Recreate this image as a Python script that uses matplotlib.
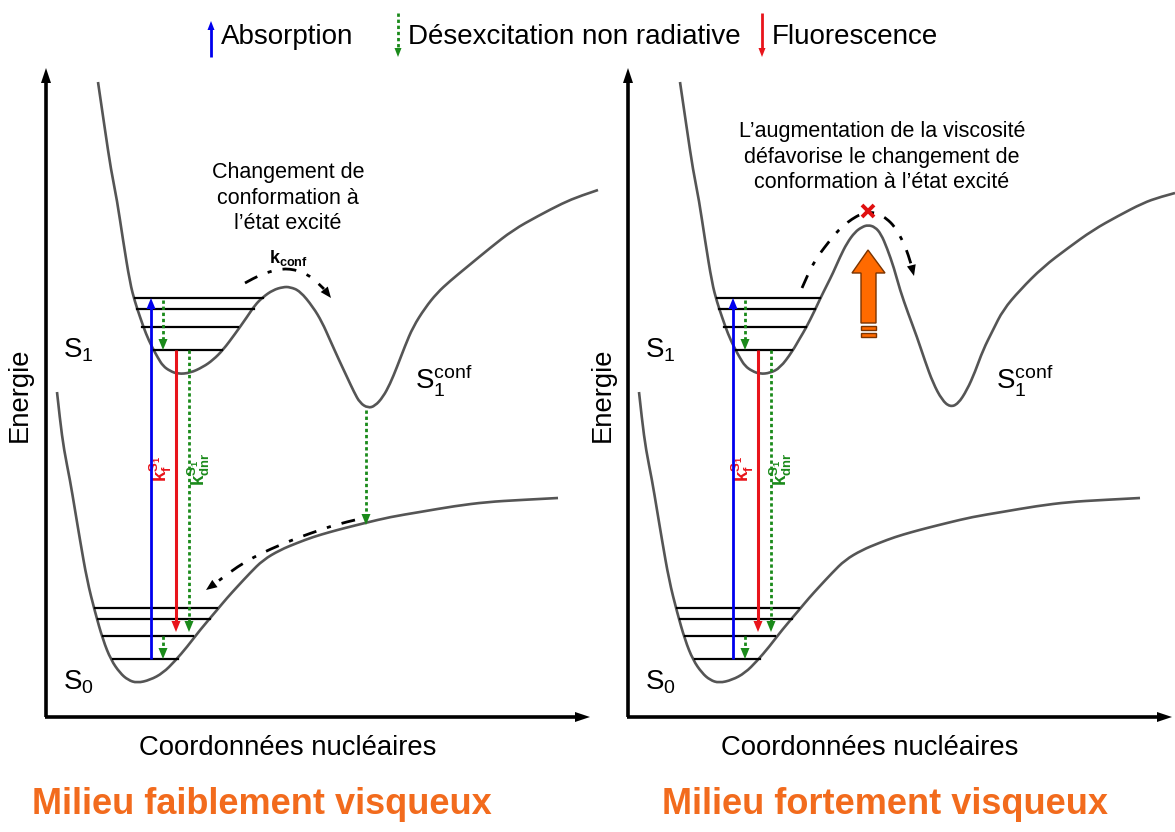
import matplotlib
matplotlib.use("Agg")
import matplotlib.pyplot as plt
import numpy as np
from matplotlib.path import Path
from matplotlib.patches import PathPatch

plt.rcParams['font.family'] = ['Liberation Sans', 'DejaVu Sans']
plt.rcParams['mathtext.fontset'] = 'custom'
plt.rcParams['mathtext.rm'] = 'Liberation Sans'
plt.rcParams['mathtext.bf'] = 'Liberation Sans:bold'
plt.rcParams['mathtext.it'] = 'Liberation Sans:italic'

# ---------------- data (pixel coordinates) ----------------
# left panel S1 potential curve
S1_left_x = [98, 105, 111, 117, 123, 130, 135, 140, 146, 152, 158, 163, 170, 178, 190, 203, 213, 223, 235, 247,
             255, 263, 273, 283, 290, 300, 313, 322, 330, 339, 347, 354, 360, 368, 375, 383, 390, 397, 405, 413,
             425, 437, 450, 467, 490, 513, 538, 563, 580, 598]
S1_left_y = [82, 130, 170, 200, 240, 283, 302, 317, 334, 347, 358, 366, 371, 374, 373, 367, 360, 350, 334, 317,
             305, 297, 290, 287, 287, 291, 307, 322, 340, 360, 377, 392, 403, 408, 406, 397, 384, 367, 346, 327,
             308, 293, 281, 267, 248, 230, 216, 203, 196, 190]
# right panel S1 potential curve
S1_right_x = [680, 687, 693, 699, 705, 712, 717, 722, 728, 734, 740, 745, 752, 760, 770, 780, 792, 800, 806, 815,
              820, 827, 833, 840, 847, 855, 862, 868, 875, 881, 887, 894, 900, 908, 917, 925, 933, 942, 950, 958,
              967, 975, 983, 993, 1003, 1020, 1043, 1068, 1093, 1118, 1143, 1160, 1175]
S1_right_y = [82, 130, 170, 200, 240, 283, 302, 317, 334, 347, 358, 366, 371, 374, 373, 368, 352, 338, 328, 310,
              299, 285, 273, 257, 243, 232, 227, 225, 227, 234, 248, 268, 290, 313, 337, 361, 383, 400, 407, 404,
              390, 372, 350, 330, 310, 290, 267, 248, 230, 216, 203, 197, 193]
# S0 potential curve (left panel; right panel is the same shape shifted)
S0_x = [57, 60, 64, 70, 75, 80, 87, 95, 103, 111, 120, 128, 137, 150, 163, 175, 187, 200, 217, 227, 237, 250,
        263, 280, 297, 313, 330, 345, 365, 390, 420, 455, 487, 520, 558]
S0_y = [392, 420, 450, 480, 510, 540, 580, 612, 640, 660, 673, 680, 683, 680, 673, 661, 647, 630, 610, 598, 587,
        573, 560, 550, 543, 537, 532, 528, 523, 517, 512, 506, 502, 500, 498]
panel_shift = [0, 582]

# vibrational levels: (y, x_start, x_end)
S1_levels_left = [(298, 135, 263), (309, 137, 254), (327, 142, 238), (350, 152, 222)]
S1_levels_right = [(298, 717, 820), (309, 719, 815), (327, 724, 806), (350, 734, 792)]
S0_levels = [(608, 95, 217), (619, 98, 210), (636, 103, 193), (659, 113, 178)]

# transitions (left panel x, y_start, y_end)
absorption = (151, 659, 298)
fluorescence = (176, 350, 632)
dnr_S1 = (163, 300, 350)
dnr_S1_S0 = (189, 350, 632)
dnr_S0 = (163, 636, 659)
dnr_conf = (366, 410, 525)

# dash-dot pathways
kconf_left_x = [245, 254, 263, 272, 281, 290, 299, 308, 316, 324, 331]
kconf_left_y = [283, 278, 274, 271, 269, 269, 271, 275, 281, 289, 298]
relax_S0_x = [355, 338, 320, 300, 280, 262, 245, 230, 217, 206]
relax_S0_y = [520, 524, 530, 537, 545, 553, 562, 572, 582, 590]
kconf_right_x = [802, 806, 810, 815, 821, 828, 835, 843, 852, 861, 870, 879, 887, 894, 899, 904, 908, 911, 914]
kconf_right_y = [288, 279, 270, 261, 252, 243, 234, 226, 219, 214, 212, 214, 219, 226, 234, 244, 254, 264, 276]

# orange "viscosity" arrow (polygon) and stripes
orange_arrow_x = [868, 885, 876, 876, 861, 861, 852]
orange_arrow_y = [250, 273, 273, 323, 323, 273, 273]
orange_stripes = [(861, 876, 326, 330), (861, 876, 333, 337)]
cross_xy = (868, 211)

# texts
legend_items = [("Absorption", 211, "#0000EE"), ("Désexcitation non radiative", 398, "#1A8A1A"),
                ("Fluorescence", 762, "#E8141B")]
xlabel = "Coordonnées nucléaires"
ylabel = "Energie"
titles = ["Milieu faiblement visqueux", "Milieu fortement visqueux"]
note_left = "Changement de\nconformation à\nl’état excité"
note_right = "L’augmentation de la viscosité\ndéfavorise le changement de\nconformation à l’état excité"

# ---------------- drawing ----------------
W, H = 1175, 832
fig = plt.figure(figsize=(W / 100, H / 100), dpi=100)
ax = fig.add_axes([0, 0, 1, 1])
ax.set_xlim(0, W)
ax.set_ylim(H, 0)
ax.axis('off')

BLUE, RED, GREEN = "#0000EE", "#E8141B", "#1A8A1A"
CURVE = "#555555"
ORANGE = "#F26B1D"


def bspline_path(xs, ys):
    P = np.column_stack([xs, ys]).astype(float)
    verts = [P[0]]
    codes = [Path.MOVETO]
    for i in range(1, len(P) - 1):
        end = P[-1] if i == len(P) - 2 else (P[i] + P[i + 1]) / 2
        verts += [P[i], end]
        codes += [Path.CURVE3, Path.CURVE3]
    return Path(verts, codes)


def smooth_curve(xs, ys, **kw):
    ax.add_patch(PathPatch(bspline_path(xs, ys), fill=False, **kw))


def head(tip, frm, color, length=11, width=9, z=5):
    tip = np.array(tip, float)
    frm = np.array(frm, float)
    d = tip - frm
    d /= np.hypot(*d)
    n = np.array([-d[1], d[0]])
    base = tip - d * length
    pts = np.array([tip, base + n * width / 2, base - n * width / 2])
    ax.fill(pts[:, 0], pts[:, 1], color=color, lw=0, zorder=z)


def varrow(x, y0, y1, color, dotted=False, lw=2.0, hl=11, hw=9):
    sgn = 1 if y1 > y0 else -1
    ls = (0, (1.2, 1.0)) if dotted else '-'
    ax.plot([x, x], [y0, y1 - sgn * (hl - 1)], color=color, lw=lw, ls=ls, zorder=4,
            solid_capstyle='butt', dash_capstyle='butt')
    head((x, y1), (x, y0), color, hl, hw)


def dashdot_arrow(xs, ys):
    ax.add_patch(PathPatch(bspline_path(xs[:-1], ys[:-1]), fill=False, color='black', lw=2.0,
                           ls=(0, (5, 4, 1.5, 4)), zorder=4))
    head((xs[-1], ys[-1]), (xs[-2], ys[-2]), 'black', 11, 9)


for p, dx in enumerate(panel_shift):
    # axes
    x0 = 46 + dx
    ax.plot([x0, x0], [717, 82], color='black', lw=2.6, zorder=3, solid_capstyle='butt')
    head((x0, 68), (x0, 100), 'black', 15, 10)
    x_end = 590 + dx if p == 0 else 1172
    ax.plot([x0 - 1.5, x_end - 12], [717, 717], color='black', lw=2.6, zorder=3, solid_capstyle='butt')
    head((x_end, 717), (x_end - 30, 717), 'black', 15, 10)

    # curves
    smooth_curve(np.array(S0_x) + dx, S0_y, edgecolor=CURVE, lw=1.9, zorder=2)
    if p == 0:
        smooth_curve(S1_left_x, S1_left_y, edgecolor=CURVE, lw=1.9, zorder=2)
        s1lv = S1_levels_left
    else:
        smooth_curve(S1_right_x, S1_right_y, edgecolor=CURVE, lw=1.9, zorder=2)
        s1lv = S1_levels_right
    for (y, xa, xb) in s1lv:
        ax.plot([xa, xb], [y, y], color='black', lw=1.6, zorder=3)
    for (y, xa, xb) in S0_levels:
        ax.plot([xa + dx, xb + dx], [y, y], color='black', lw=1.6, zorder=3)

    # transitions
    varrow(absorption[0] + dx, absorption[1], absorption[2], BLUE, lw=2.0)
    varrow(fluorescence[0] + dx, fluorescence[1], fluorescence[2], RED, lw=2.2)
    varrow(dnr_S1[0] + dx, dnr_S1[1], dnr_S1[2], GREEN, dotted=True)
    varrow(dnr_S1_S0[0] + dx, dnr_S1_S0[1], dnr_S1_S0[2], GREEN, dotted=True)
    varrow(dnr_S0[0] + dx, dnr_S0[1], dnr_S0[2], GREEN, dotted=True)

    ax.text(161 + dx, 469, r'$\mathbf{k_f^{S_1}}$', color=RED, fontsize=13.5, rotation=90,
            ha='center', va='center')
    ax.text(199 + dx, 469, r'$\mathbf{k_{dnr}^{S_1}}$', color=GREEN, fontsize=13.5, rotation=90,
            ha='center', va='center')

    # state labels
    ax.text(78 + dx, 350, r'$\mathregular{S_1}$', fontsize=20, ha='center', va='center')
    ax.text(78 + dx, 682, r'$\mathregular{S_0}$', fontsize=20, ha='center', va='center')
    ax.text(444 + dx if p == 0 else 1025, 380, r'$\mathregular{S_1^{conf}}$', fontsize=20,
            ha='center', va='center')

    # axis labels & titles
    ax.text(20 + dx + p, 395, ylabel, fontsize=19.8, rotation=90, ha='center', va='center')
    ax.text(288 + dx, 748, xlabel, fontsize=19.8, ha='center', va='center')
    ax.text([262, 885][p], 805, titles[p], fontsize=26, fontweight='bold', color=ORANGE,
            ha='center', va='center')

# left-only elements
varrow(dnr_conf[0], dnr_conf[1], dnr_conf[2], GREEN, dotted=True)
dashdot_arrow(kconf_left_x, kconf_left_y)
dashdot_arrow(relax_S0_x, relax_S0_y)
ax.text(288, 198, note_left, fontsize=15.5, ha='center', va='center', linespacing=1.3)
ax.text(288, 258, r'$\mathbf{k_{conf}}$', fontsize=13, ha='center', va='center')

# right-only elements
dashdot_arrow(kconf_right_x, kconf_right_y)
ax.text(882, 157, note_right, fontsize=15.5, ha='center', va='center', linespacing=1.3)
ax.fill(orange_arrow_x, orange_arrow_y, facecolor="#FF6A00", edgecolor="#7A3300", lw=1.0, zorder=5)
for (xa, xb, ya, yb) in orange_stripes:
    ax.fill([xa, xb, xb, xa], [ya, ya, yb, yb], facecolor="#FF6A00", edgecolor="#7A3300", lw=1.0, zorder=5)
cx, cy = cross_xy
ax.plot([cx - 6, cx + 6], [cy - 6, cy + 6], color="#E01010", lw=2.8, zorder=6, solid_capstyle='butt')
ax.plot([cx - 6, cx + 6], [cy + 6, cy - 6], color="#E01010", lw=2.8, zorder=6, solid_capstyle='butt')

# legend
for label, x, col in legend_items:
    if col == BLUE:
        varrow(x, 57, 21, col, lw=2.0, hl=9, hw=7)
    else:
        varrow(x, 13, 57, col, dotted=(col == GREEN), lw=2.0, hl=9, hw=7)
    ax.text(x + 10, 37, label, fontsize=20, ha='left', va='center')

fig.savefig("out.png", dpi=100)
